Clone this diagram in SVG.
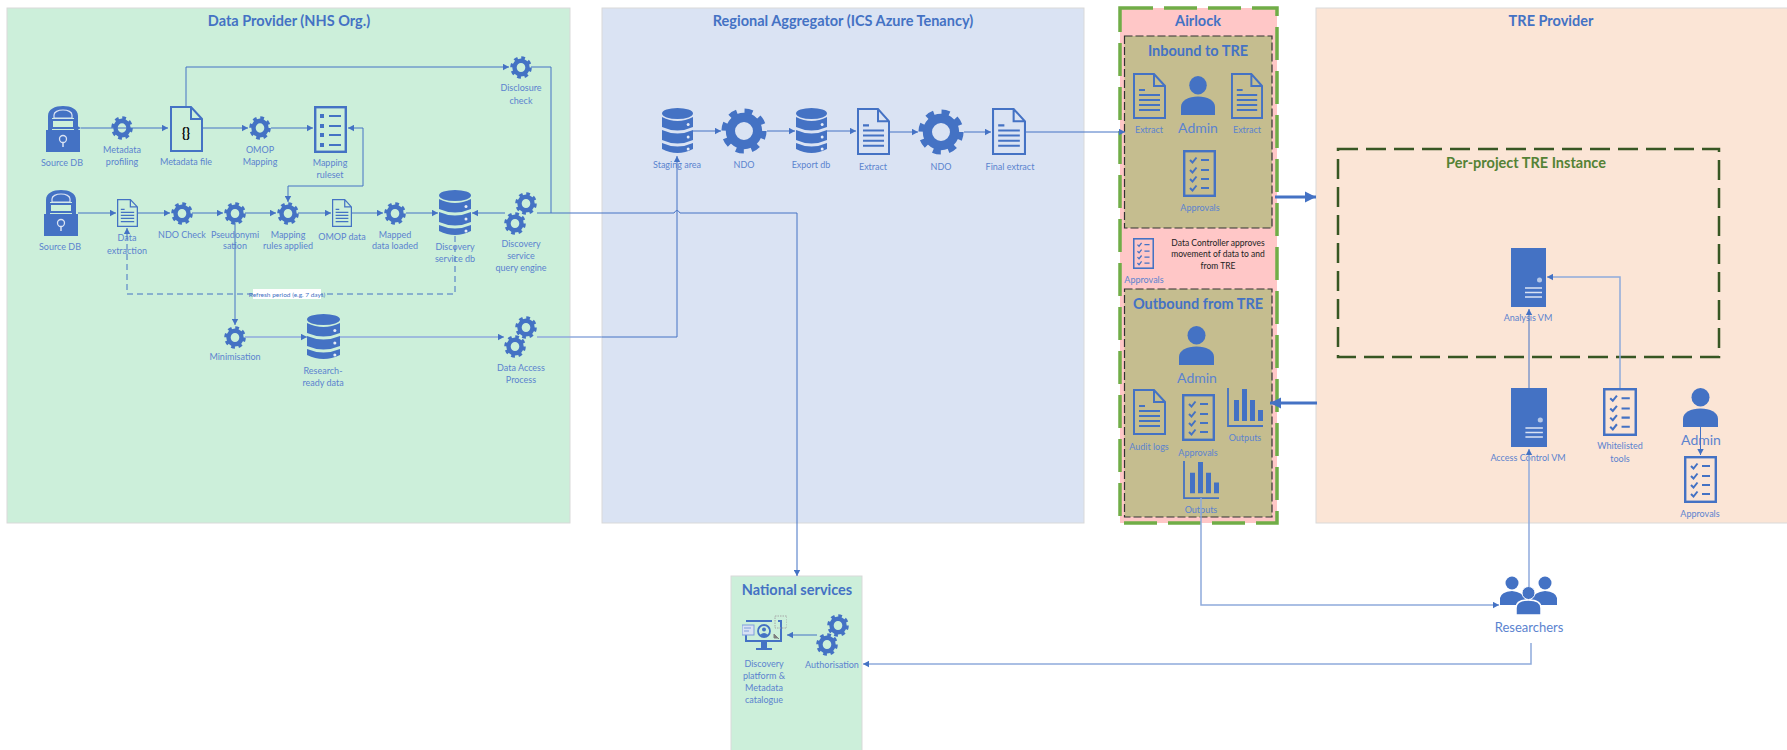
<svg xmlns="http://www.w3.org/2000/svg" width="1787" height="750" viewBox="0 0 1787 750">
<style>
text{font-family:Lato,"Liberation Sans",sans-serif;fill:#4472c4;text-anchor:middle;dominant-baseline:central}
.l{font-size:9px;fill:#5b83cf}
.t{font-size:14.500px;font-weight:700}
.s{font-size:14.500px;font-weight:700}
.a{font-size:14px;fill:#5b83cf}
.k{font-size:8.500px;fill:#222}
.panel{stroke:#d9d9d9;stroke-width:1}
.c{fill:none;stroke:#4472c4;stroke-width:1}
.p{fill:none;stroke:#8faadc;stroke-width:1.500}
.o{fill:none;stroke:#4472c4}
.f{fill:#4472c4}
</style>
<defs>
<marker id="ah" markerUnits="userSpaceOnUse" markerWidth="7" markerHeight="7" refX="6" refY="3.500" orient="auto"><path d="M0 0.300L6 3.500L0 6.700Z" fill="#4472c4"/></marker>
<marker id="big" markerUnits="userSpaceOnUse" markerWidth="12" markerHeight="12" refX="11" refY="6" orient="auto"><path d="M0 0.500L11 6L0 11.500Z" fill="#4472c4"/></marker>
<symbol id="gear" viewBox="-11 -11 22 22" preserveAspectRatio="none"><circle r="6.500" fill="none" stroke="#4472c4" stroke-width="4.400"/><circle r="9.300" fill="none" stroke="#4472c4" stroke-width="3" stroke-dasharray="3.700 3.600"/></symbol>
<symbol id="db" viewBox="0 0 32 46" preserveAspectRatio="none"><g fill="#4472c4"><ellipse cx="16" cy="5.500" rx="16" ry="5.500"/><path d="M0 9Q16 17 32 9V19Q16 26 0 19Z"/><path d="M0 22Q16 29 32 22V32Q16 39 0 32Z"/><path d="M0 35Q16 42 32 35V41Q16 49 0 41Z"/></g><g fill="#e6ecf7"><circle cx="27" cy="16.500" r="1.500"/><circle cx="27" cy="29" r="1.500"/><circle cx="27" cy="41" r="1.500"/></g></symbol>
<symbol id="doc" viewBox="0 0 33 46" preserveAspectRatio="none"><path class="o" stroke-width="2" d="M1 1H21L32 13V45H1ZM21 1V13H32"/><path class="o" stroke-width="2" d="M6 17H12M6 22H27M6 27H27M6 32H27M6 37H27"/></symbol>
<symbol id="json" viewBox="0 0 33 46" preserveAspectRatio="none"><path fill="none" stroke="#4472c4" stroke-width="2" d="M1 1H21L32 13V45H1Z"/><path class="o" stroke-width="2" d="M21 1V13H32"/></symbol>
<symbol id="list" viewBox="0 0 33 47" preserveAspectRatio="none"><rect x="1.200" y="1.200" width="30.600" height="44.600" fill="none" stroke="#4472c4" stroke-width="2.400"/><path class="o" stroke-width="2" d="M7 10l2.500 2.500l4-5M7 20l2.500 2.500l4-5M7 29l2.500 2.500l4-5M7 38l2.500 2.500l4-5M18 10H26M18 20H26M18 29H26M18 38H26"/></symbol>
<symbol id="rule" viewBox="0 0 33 47" preserveAspectRatio="none"><rect x="1.200" y="1.200" width="30.600" height="44.600" fill="none" stroke="#4472c4" stroke-width="2.400"/><path class="f" d="M6 8h4v4h-4zM6 18h4v4h-4zM6 27h4v4h-4zM6 37h4v4h-4z"/><path class="o" stroke-width="1.800" d="M15 10H27M15 20H27M15 29H27M15 39H27"/></symbol>
<symbol id="person" viewBox="0 0 35 38" preserveAspectRatio="none"><circle cx="17.500" cy="9" r="9" fill="#4472c4"/><path class="f" d="M0 38V30C0 24 8 20 17.500 20S35 24 35 30V38Z"/></symbol>
<symbol id="chart" viewBox="0 0 36 39" preserveAspectRatio="none"><path class="o" stroke-width="1.800" d="M1 0V38H36"/><path class="f" d="M7 12h5v21h-5zM15 1h5v32h-5zM23 12h5v21h-5zM31 22h5v11h-5z"/></symbol>
<symbol id="vm" viewBox="0 0 35 59" preserveAspectRatio="none"><rect width="35" height="59" fill="#4472c4"/><circle cx="28.500" cy="32" r="2.500" fill="#b4c7e7"/><path d="M14 40H31M14 44.500H31M14 49H31" stroke="#dae3f3" stroke-width="1.300" fill="none"/></symbol>
<symbol id="lock" viewBox="0 0 34 46" preserveAspectRatio="none"><path class="f" d="M0 24H34V46H0Z"/><path class="f" d="M2 24V10C2 3 9 0 17 0S32 3 32 10V24H28V12H6V24Z"/><path d="M8 9C8 6 12 4 17 4S26 6 26 9V12H8Z" fill="none" stroke="#dae3f3" stroke-width="1.200"/><path d="M6 14H28V22H6Z" fill="none" stroke="#4472c4" stroke-width="2"/><circle cx="17" cy="33" r="3.500" fill="none" stroke="#dae3f3" stroke-width="1.300"/><path d="M17 37V41" stroke="#dae3f3" stroke-width="1.500"/></symbol>
<symbol id="monitor" viewBox="0 0 45 39" preserveAspectRatio="none"><path class="o" stroke-width="2" d="M4 6H30M36 6H39V26H4V16"/><path class="f" d="M19 27h6v6h5v2h-16v-2h5z"/><rect x="0" y="10" width="12" height="10" fill="#d9e2f3" stroke="#7f9fdb"/><path d="M2 13H9M2 16H7" stroke="#7f9fdb"/><circle cx="22" cy="16" r="6" fill="none" stroke="#4472c4" stroke-width="1.800"/><circle cx="22" cy="14.500" r="2" fill="#4472c4"/><path class="f" d="M18 20Q22 16 26 20L22 22Z"/><path d="M32 19l5 5M32 19v4h4z" stroke="#7f7f7f" fill="#7f7f7f"/><rect x="33" y="1" width="12" height="12" fill="none" stroke="#a6a6a6" stroke-dasharray="1.500 1"/></symbol>
</defs>

<g id="panels">
<rect id="panel-data-provider" class="panel" x="7" y="8" width="563" height="515" fill="#ccefda"/>
<rect id="panel-regional" class="panel" x="602" y="8" width="482" height="515" fill="#dae3f3"/>
<rect id="panel-airlock" x="1120" y="8" width="157" height="515" fill="#ffc7c7" stroke="#70ad47" stroke-width="3.500" stroke-dasharray="33 11"/>
<rect id="panel-inbound" x="1124.500" y="36" width="147.500" height="192" fill="#c5bd8f" stroke="#333" stroke-width="1.200" stroke-dasharray="8 3"/>
<rect id="panel-outbound" x="1124.500" y="289" width="147.500" height="228" fill="#c5bd8f" stroke="#333" stroke-width="1.200" stroke-dasharray="8 3"/>
<rect id="panel-tre" class="panel" x="1316" y="8" width="472" height="515" fill="#fbe5d6"/>
<rect id="panel-instance" x="1338" y="149" width="381" height="208" fill="none" stroke="#375623" stroke-width="2.500" stroke-dasharray="20 8"/>
<rect id="panel-national" class="panel" x="731" y="576" width="131" height="175" fill="#ccefda"/>
<text class="t" x="289" y="20">Data Provider (NHS Org.)</text>
<text class="t" x="843" y="20">Regional Aggregator (ICS Azure Tenancy)</text>
<text class="t" x="1198" y="20">Airlock</text>
<text class="t" x="1198" y="50">Inbound to TRE</text>
<text class="t" x="1198" y="303">Outbound from TRE</text>
<text class="t" x="1551" y="20">TRE Provider</text>
<text class="s" x="1526" y="162" style="fill:#548235">Per-project TRE Instance</text>
<text class="s" x="797" y="589">National services</text>
</g>

<g id="n-source-db-1"><use href="#lock" x="46" y="106" width="34" height="46"/><text class="l" x="62" y="162">Source DB</text></g>
<g id="n-metadata-profiling"><use href="#gear" x="111" y="116" width="22" height="24"/><text class="l" x="122" y="149">Metadata</text><text class="l" x="122" y="161">profiling</text></g>
<g id="n-metadata-file"><use href="#json" x="170" y="106" width="33" height="46"/><text x="186" y="133" style="font-size:13px;font-weight:700;fill:#000">{}</text><text class="l" x="186" y="161">Metadata file</text></g>
<g id="n-omop-mapping"><use href="#gear" x="249" y="116" width="22" height="24"/><text class="l" x="260" y="149">OMOP</text><text class="l" x="260" y="161">Mapping</text></g>
<g id="n-mapping-ruleset"><use href="#rule" x="314" y="106" width="33" height="47"/><text class="l" x="330" y="162">Mapping</text><text class="l" x="330" y="174">ruleset</text></g>
<g id="n-disclosure"><use href="#gear" x="510" y="56" width="22" height="23"/><text class="l" x="521" y="87">Disclosure</text><text class="l" x="521" y="100">check</text></g>
<g id="n-source-db-2"><use href="#lock" x="44" y="190" width="34" height="46"/><text class="l" x="60" y="246">Source DB</text></g>
<g id="n-data-extraction"><use href="#doc" x="117" y="199" width="21" height="28"/><text class="l" x="127" y="237">Data</text><text class="l" x="127" y="250">extraction</text></g>
<g id="n-ndo-check"><use href="#gear" x="171" y="202" width="22" height="23"/><text class="l" x="182" y="234">NDO Check</text></g>
<g id="n-pseudonymisation"><use href="#gear" x="224" y="202" width="22" height="23"/><text class="l" x="235" y="234">Pseudonymi</text><text class="l" x="235" y="245">sation</text></g>
<g id="n-mapping-rules"><use href="#gear" x="277" y="202" width="22" height="23"/><text class="l" x="288" y="234">Mapping</text><text class="l" x="288" y="245">rules applied</text></g>
<g id="n-omop-data"><use href="#doc" x="332" y="199" width="20" height="28"/><text class="l" x="342" y="236">OMOP data</text></g>
<g id="n-mapped-data"><use href="#gear" x="384" y="202" width="22" height="23"/><text class="l" x="395" y="234">Mapped</text><text class="l" x="395" y="245">data loaded</text></g>
<g id="n-discovery-db"><use href="#db" x="439" y="190" width="32" height="46"/><text class="l" x="455" y="246">Discovery</text><text class="l" x="455" y="258">service db</text></g>
<g id="n-query-engine"><use href="#gear" x="515" y="192" width="22" height="23"/><use href="#gear" x="504" y="212" width="22" height="23"/><text class="l" x="521" y="243">Discovery</text><text class="l" x="521" y="255">service</text><text class="l" x="521" y="267">query engine</text></g>
<g id="n-minimisation"><use href="#gear" x="224" y="326" width="22" height="23"/><text class="l" x="235" y="356">Minimisation</text></g>
<g id="n-research-ready"><use href="#db" x="307" y="314" width="33" height="46"/><text class="l" x="323" y="370">Research-</text><text class="l" x="323" y="382">ready data</text></g>
<g id="n-data-access"><use href="#gear" x="515" y="316" width="22" height="23"/><use href="#gear" x="504" y="335" width="22" height="23"/><text class="l" x="521" y="367">Data Access</text><text class="l" x="521" y="379">Process</text></g>

<g id="n-staging"><use href="#db" x="662" y="108" width="31" height="46"/><text class="l" x="677" y="164">Staging area</text></g>
<g id="n-ndo-1"><use href="#gear" x="721" y="108" width="46" height="46"/><text class="l" x="744" y="164">NDO</text></g>
<g id="n-export"><use href="#db" x="796" y="108" width="31" height="46"/><text class="l" x="811" y="164">Export db</text></g>
<g id="n-extract"><use href="#doc" x="857" y="108" width="33" height="47"/><text class="l" x="873" y="166">Extract</text></g>
<g id="n-ndo-2"><use href="#gear" x="918" y="109" width="46" height="46"/><text class="l" x="941" y="166">NDO</text></g>
<g id="n-final-extract"><use href="#doc" x="992" y="108" width="34" height="47"/><text class="l" x="1010" y="166">Final extract</text></g>

<g id="n-in-extract-1"><use href="#doc" x="1133" y="73" width="33" height="46"/><text class="l" x="1149" y="129">Extract</text></g>
<g id="n-in-admin"><use href="#person" x="1181" y="76" width="34" height="39"/><text class="a" x="1198" y="127">Admin</text></g>
<g id="n-in-extract-2"><use href="#doc" x="1231" y="73" width="32" height="46"/><text class="l" x="1247" y="129">Extract</text></g>
<g id="n-in-approvals"><use href="#list" x="1183" y="150" width="33" height="47"/><text class="l" x="1200" y="207">Approvals</text></g>
<g id="n-airlock-approvals"><use href="#list" x="1133" y="238" width="21" height="31"/><text class="l" x="1144" y="279">Approvals</text></g>
<g id="n-controller-note"><text class="k" x="1218" y="243">Data Controller approves</text><text class="k" x="1218" y="254">movement of data to and</text><text class="k" x="1218" y="266">from TRE</text></g>
<g id="n-out-admin"><use href="#person" x="1179" y="326" width="35" height="39"/><text class="a" x="1197" y="377">Admin</text></g>
<g id="n-audit-logs"><use href="#doc" x="1133" y="389" width="33" height="46"/><text class="l" x="1149" y="446">Audit logs</text></g>
<g id="n-out-approvals"><use href="#list" x="1182" y="394" width="33" height="47"/><text class="l" x="1198" y="452">Approvals</text></g>
<g id="n-outputs-1"><use href="#chart" x="1227" y="388" width="36" height="39"/><text class="l" x="1245" y="437">Outputs</text></g>
<g id="n-outputs-2"><use href="#chart" x="1183" y="461" width="36" height="38"/><text class="l" x="1201" y="509">Outputs</text></g>

<g id="n-analysis-vm"><use href="#vm" x="1511" y="248" width="35" height="59"/><text class="l" x="1528" y="317">Analysis VM</text></g>
<g id="n-access-vm"><use href="#vm" x="1511" y="388" width="36" height="59"/><text class="l" x="1528" y="457">Access Control VM</text></g>
<g id="n-whitelisted"><use href="#list" x="1603" y="388" width="34" height="48"/><text class="l" x="1620" y="445">Whitelisted</text><text class="l" x="1620" y="458">tools</text></g>
<g id="n-tre-admin"><use href="#person" x="1683" y="388" width="35" height="39"/><text class="a" x="1701" y="439">Admin</text></g>
<g id="n-tre-approvals"><use href="#list" x="1684" y="456" width="33" height="47"/><text class="l" x="1700" y="513">Approvals</text></g>
<g id="n-researchers"><g class="f"><circle cx="1512" cy="583" r="6.500"/><circle cx="1545" cy="583" r="6.500"/><path d="M1500 605V598Q1501 592 1512 591Q1523 592 1526 600L1522 605ZM1557 605V598Q1556 592 1545 591Q1534 592 1531 600L1535 605Z"/></g><path class="f" stroke="#fff" stroke-width="1.500" d="M1516 615V608Q1516 600 1528.500 600Q1541 600 1541 608V615Z"/><circle cx="1528.500" cy="593" r="6.500" fill="#4472c4" stroke="#fff" stroke-width="1"/><text x="1529" y="627" style="font-size:13px;fill:#5b83cf">Researchers</text></g>
<g id="n-discovery-platform"><use href="#monitor" x="742" y="615" width="45" height="39"/><text class="l" x="764" y="663">Discovery</text><text class="l" x="764" y="675">platform &amp;</text><text class="l" x="764" y="687">Metadata</text><text class="l" x="764" y="699">catalogue</text></g>
<g id="n-authorisation"><use href="#gear" x="827" y="614" width="22" height="23"/><use href="#gear" x="816" y="633" width="22" height="23"/><text class="l" x="832" y="664">Authorisation</text></g>

<g id="connectors">
<path class="c" marker-start="url(#ah)" marker-end="url(#ah)" d="M81 128H168"/>
<path class="c" marker-end="url(#ah)" d="M203 128H248"/>
<path class="c" marker-end="url(#ah)" d="M271 128H313"/>
<path class="c" marker-end="url(#ah)" d="M186 106V67H509"/>
<path class="c" d="M531 67H551V213"/>
<path class="c" marker-end="url(#ah)" d="M363 186V128H348"/>
<path class="c" marker-end="url(#ah)" d="M363 186H288V202"/>
<path class="c" marker-end="url(#ah)" d="M78 213H116"/>
<path class="c" marker-end="url(#ah)" d="M138 213H170"/>
<path class="c" marker-end="url(#ah)" d="M192 213H223"/>
<path class="c" marker-end="url(#ah)" d="M245 213H276"/>
<path class="c" marker-end="url(#ah)" d="M298 213H331"/>
<path class="c" marker-end="url(#ah)" d="M352 213H383"/>
<path class="c" marker-end="url(#ah)" d="M406 213H438"/>
<path class="c" marker-end="url(#ah)" d="M505 213H472"/>
<path class="c" marker-end="url(#ah)" d="M537 213H674Q677 208 680 213H797V576"/>
<path class="c" stroke-dasharray="6 4" marker-end="url(#ah)" d="M455 236V294H127V228"/>
<rect x="253" y="289" width="68" height="10" fill="#fff"/>
<text x="287" y="294" style="font-size:6.500px">Refresh period (e.g. 7 days)</text>
<path class="c" marker-end="url(#ah)" d="M235 223V325"/>
<path class="p" marker-end="url(#ah)" d="M245 337H307"/>
<path class="p" marker-end="url(#ah)" d="M340 337H504"/>
<path class="p" d="M537 337H602"/>
<path class="c" marker-end="url(#ah)" d="M602 337H677V156"/>
<path class="c" marker-end="url(#ah)" d="M693 131H721"/>
<path class="c" marker-end="url(#ah)" d="M767 131H795"/>
<path class="c" marker-end="url(#ah)" d="M827 131H856"/>
<path class="c" marker-end="url(#ah)" d="M890 132H918"/>
<path class="c" marker-end="url(#ah)" d="M964 132H991"/>
<path class="c" marker-end="url(#ah)" d="M1026 132H1125"/>
<path d="M1275 197H1316" stroke="#4472c4" stroke-width="3" fill="none" marker-end="url(#big)"/>
<path d="M1317 403H1270" stroke="#4472c4" stroke-width="3" fill="none" marker-end="url(#big)"/>
<path class="p" marker-end="url(#ah)" d="M1201 498V605H1499"/>
<path class="c" marker-end="url(#ah)" d="M1529 388V309"/>
<path class="p" marker-end="url(#ah)" d="M1620 388V277H1547"/>
<path class="c" marker-end="url(#ah)" d="M1700.500 427V455"/>
<path class="p" marker-end="url(#ah)" d="M1529 587V449"/>
<path class="p" marker-end="url(#ah)" d="M1531 643V664H863"/>
<path class="c" marker-end="url(#ah)" d="M817 635H787"/>
</g>
</svg>
